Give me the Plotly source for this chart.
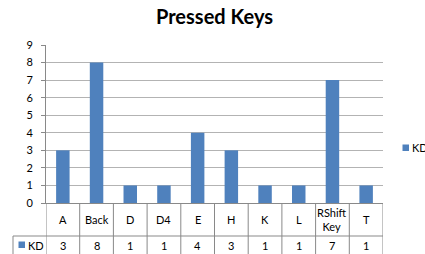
import plotly.graph_objects as go

categories = ["A", "Back", "D", "D4", "E", "H", "K", "L", "RShift Key", "T"]
kd_values = [3, 8, 1, 1, 4, 3, 1, 1, 7, 1]
series_name = "KD"
title_text = "Pressed Keys"
y_ticks = list(range(0, 10))

W, H = 425, 254
ML, MR, MT, MB = 46, 42, 45, 51
PW = W - ML - MR
PH = H - MT - MB

def px_x(x):
    return (x - ML) / PW

def px_y(y):
    return (H - MB - y) / PH

BAR = "#4F81BD"
LINE = "#898989"
GRID = "#b3b3b3"
FONT = "Lato"

idx = list(range(len(categories)))
fig = go.Figure()
fig.add_trace(go.Bar(x=idx, y=kd_values, name=series_name, marker_color=BAR,
                     marker_line_width=0, showlegend=False))

shapes = []
for i in range(len(categories) + 1):
    shapes.append(dict(type="line", xref="x", yref="paper", x0=i - 0.5, x1=i - 0.5,
                       y0=0, y1=px_y(258), line=dict(color=LINE, width=1)))
shapes.append(dict(type="line", xref="paper", yref="paper", x0=px_x(13), x1=1,
                   y0=px_y(236), y1=px_y(236), line=dict(color=LINE, width=1)))
shapes.append(dict(type="line", xref="paper", yref="paper", x0=px_x(13), x1=px_x(13),
                   y0=px_y(236), y1=px_y(258), line=dict(color=LINE, width=1)))
# legend key squares
shapes.append(dict(type="rect", xref="paper", yref="paper", x0=px_x(402.5), x1=px_x(409),
                   y0=px_y(151), y1=px_y(144.5), fillcolor=BAR, line=dict(width=0)))
shapes.append(dict(type="rect", xref="paper", yref="paper", x0=px_x(18.5), x1=px_x(25),
                   y0=px_y(248), y1=px_y(241.5), fillcolor=BAR, line=dict(width=0)))

annotations = []
for i, c in enumerate(categories):
    annotations.append(dict(x=i, y=px_y(219), xref="x", yref="paper",
                            text=c.replace(" ", "<br>"), showarrow=False,
                            font=dict(family=FONT, size=11, color="#000"),
                            xanchor="center", yanchor="middle"))
for i, v in enumerate(kd_values):
    annotations.append(dict(x=i, y=px_y(245.5), xref="x", yref="paper",
                            text=str(v), showarrow=False,
                            font=dict(family=FONT, size=11, color="#000"),
                            xanchor="center", yanchor="middle"))
annotations.append(dict(x=px_x(409.5), y=px_y(147.5), xref="paper", yref="paper",
                        text=series_name, showarrow=False, xanchor="left", yanchor="middle",
                        font=dict(family=FONT, size=11, color="#000")))
annotations.append(dict(x=px_x(25.5), y=px_y(245), xref="paper", yref="paper",
                        text=series_name, showarrow=False, xanchor="left", yanchor="middle",
                        font=dict(family=FONT, size=11, color="#000")))

fig.update_layout(
    width=W, height=H,
    margin=dict(l=ML, r=MR, t=MT, b=MB),
    paper_bgcolor="white", plot_bgcolor="white",
    title=dict(text="<b>" + title_text + "</b>", x=0.5, xref="paper", xanchor="center",
               y=1 - 17 / H, yanchor="middle", yref="container",
               font=dict(family=FONT, size=20, color="#000")),
    bargap=0.6,
    shapes=shapes,
    annotations=annotations,
    xaxis=dict(range=[-0.5, len(categories) - 0.5], showticklabels=False, ticks="",
               showgrid=False, showline=True, linecolor=LINE, zeroline=False, fixedrange=True),
    yaxis=dict(range=[0, 9], tickvals=y_ticks, ticks="outside", ticklen=4, tickcolor=LINE,
               ticklabelstandoff=6,
               showline=True, linecolor=LINE, showgrid=True, gridcolor=GRID,
               zeroline=False, tickfont=dict(family=FONT, size=11, color="#000"),
               fixedrange=True),
    showlegend=False,
)

fig.write_html("out.html", config={"displayModeBar": False},
               post_script="document.body.style.margin='0';document.body.style.padding='0';")
